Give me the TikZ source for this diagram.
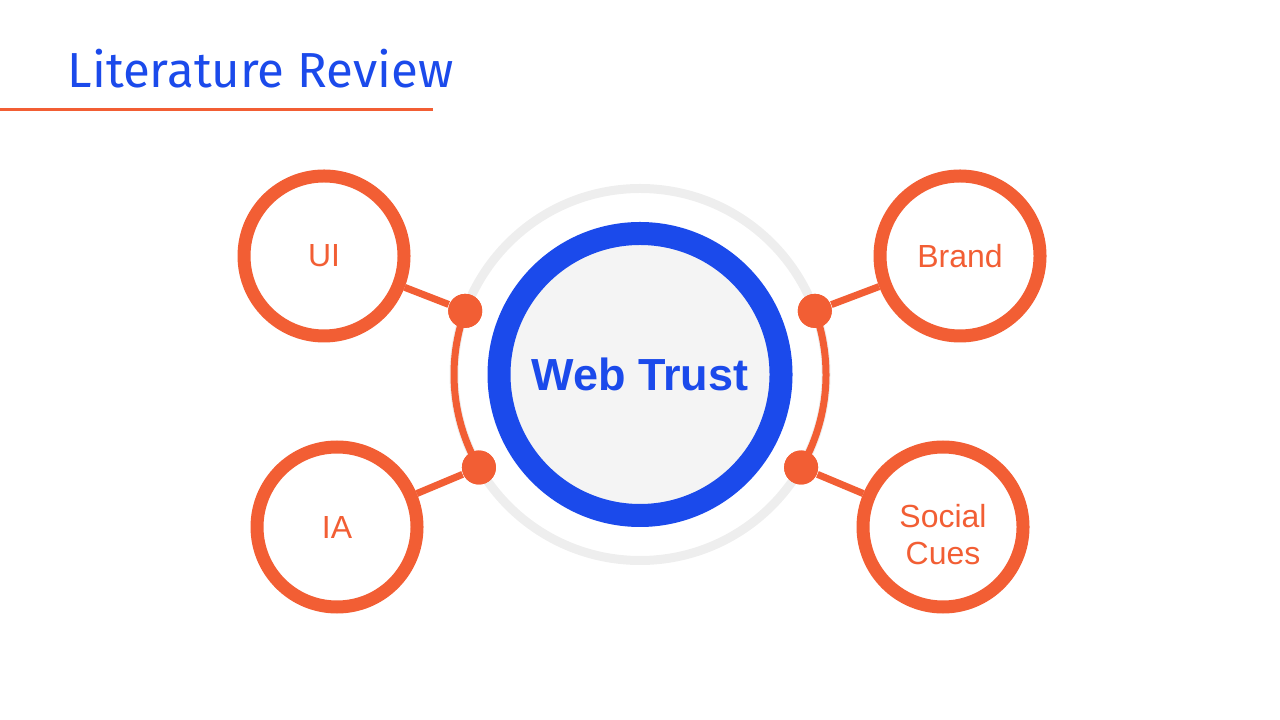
\documentclass[tikz,border=0pt]{standalone}
\usepackage{fontspec}
\setmainfont{Liberation Sans}
\newfontfamily\titlefont{Fira Sans}
\usetikzlibrary{positioning}
\definecolor{trustblue}{HTML}{1B4AEB}
\definecolor{litorange}{HTML}{F25E34}
\definecolor{ringgrey}{HTML}{EEEEEE}
\definecolor{coregrey}{HTML}{F4F4F4}

\begin{document}
\begin{tikzpicture}[
  topic/.style={circle,draw=litorange,line width=0.13cm,minimum size=1.6cm,
    text=litorange,font=\fontsize{9.1}{10.5}\selectfont,align=center,fill=white},
  hub/.style={circle,fill=litorange,minimum size=0.34cm,inner sep=0pt},
  link/.style={draw=litorange,line width=0.07cm}
]
\useasboundingbox (0,0) rectangle (12.8,-7.2);
% heading
\node[anchor=base west,inner sep=0pt,text=trustblue,font=\titlefont\fontsize{14}{16}\selectfont] (title) at (0.67,-0.88) {Literature Review};
\draw[litorange,line width=0.03cm] (0,-1.1) -- (4.33,-1.1);
% outer ring
\coordinate (mid) at (6.4,-3.745);
\draw[ringgrey,line width=0.09cm] (mid) circle[radius=1.86];
% hubs on the ring
\node[hub] (h1) at ([shift={(160:1.86)}]mid) {};
\node[hub] (h2) at ([shift={(210:1.86)}]mid) {};
\node[hub] (h3) at ([shift={(20:1.86)}]mid) {};
\node[hub] (h4) at ([shift={(-30:1.86)}]mid) {};
\draw[link] (h1.center) arc[start angle=160,end angle=210,radius=1.86];
\draw[link] (h3.center) arc[start angle=20,end angle=-30,radius=1.86];
% centre
\node[circle,draw=trustblue,fill=coregrey,line width=0.23cm,minimum size=2.82cm,
  text=trustblue,font=\bfseries\fontsize{12.8}{15}\selectfont] (web) at (mid) {Web Trust};
% topics
\node[topic] (ui) at (3.24,-2.56) {UI};
\node[topic] (ia) at (3.37,-5.27) {IA};
\node[topic] (brand) at (9.6,-2.56) {Brand};
\node[topic] (social) at (9.43,-5.27) {};
\node[text=litorange,font=\fontsize{9.1}{10.5}\selectfont,align=center] (cues) at ([yshift=-0.08cm]social.center) {Social\\Cues};
\draw[link] (ui) -- (h1);
\draw[link] (ia) -- (h2);
\draw[link] (brand) -- (h3);
\draw[link] (social) -- (h4);
\node[hub] at (h1) {};
\node[hub] at (h2) {};
\node[hub] at (h3) {};
\node[hub] at (h4) {};
\end{tikzpicture}
\end{document}
